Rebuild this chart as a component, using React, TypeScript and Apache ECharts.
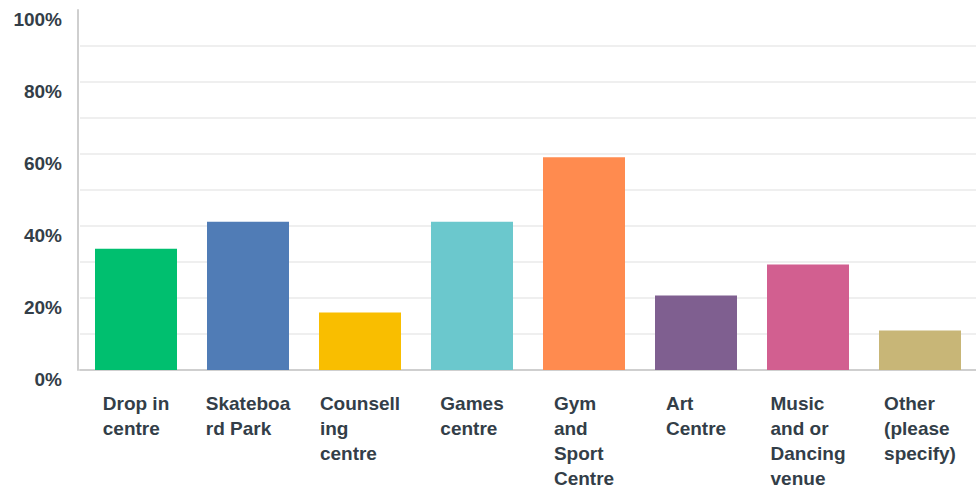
import React, { useEffect, useRef } from "react";
import * as echarts from "echarts";

const categories = [
  "Drop in centre",
  "Skateboard Park",
  "Counselling centre",
  "Games centre",
  "Gym and Sport Centre",
  "Art Centre",
  "Music and or Dancing venue",
  "Other (please specify)",
];
const categoryLines = [
  ["Drop in", "centre"],
  ["Skateboa", "rd Park"],
  ["Counsell", "ing", "centre"],
  ["Games", "centre"],
  ["Gym", "and", "Sport", "Centre"],
  ["Art", "Centre"],
  ["Music", "and or", "Dancing", "venue"],
  ["Other", "(please", "specify)"],
];
const values = [33.7, 41.2, 16.0, 41.2, 59.1, 20.7, 29.3, 11.0];
const colors = [
  "#00bf6f",
  "#507cb6",
  "#f9be00",
  "#6bc8cd",
  "#ff8b4f",
  "#7f5f90",
  "#d25f90",
  "#c8b677",
];
const yTicks = [0, 20, 40, 60, 80, 100];

const FONT = "'Liberation Sans', Arial, sans-serif";
const TEXT = "#333e48";

export default function App() {
  const ref = useRef<HTMLDivElement>(null);
  useEffect(() => {
    if (!ref.current) return;
    const chart = echarts.init(ref.current, undefined, { renderer: "svg" });
    chart.setOption({
      animation: false,
      backgroundColor: "#ffffff",
      grid: { left: 80, width: 901, top: 10, height: 362, containLabel: false },
      xAxis: {
        type: "category",
        data: categories,
        axisLine: { show: true, lineStyle: { color: "#cfcfcf", width: 2 } },
        axisTick: { show: false },
        axisLabel: {
          interval: 0,
          margin: 21,
          align: "center",
          verticalAlign: "top",
          fontFamily: FONT,
          fontWeight: "bold",
          fontSize: 19,
          color: TEXT,
          lineHeight: 25,
          formatter: (_v: string, idx: number) =>
            categoryLines[idx].map((l) => `{a|${l}}`).join("\n"),
          rich: {
            a: {
              align: "left",
              fontFamily: FONT,
              fontWeight: "bold",
              fontSize: 19,
              color: TEXT,
              lineHeight: 25,
            },
          },
        },
      },
      yAxis: {
        type: "value",
        min: 0,
        max: 100,
        interval: 10,
        offset: 2,
        axisLine: { show: true, lineStyle: { color: "#cfcfcf", width: 2 } },
        axisTick: { show: false },
        splitLine: {
          show: true,
          showMaxLine: false,
          lineStyle: { color: "#efefef", width: 2 },
        },
        axisLabel: {
          margin: 16,
          verticalAlign: "top",
          fontFamily: FONT,
          fontWeight: "bold",
          fontSize: 19,
          color: TEXT,
          formatter: (v: number) => (yTicks.includes(v) ? `${v}%` : ""),
        },
      },
      series: [
        {
          type: "bar",
          barWidth: 82,
          data: values.map((v, i) => ({ value: v, itemStyle: { color: colors[i] } })),
        },
      ],
    });
    return () => chart.dispose();
  }, []);
  return (
    <div
      ref={ref}
      style={{ position: "fixed", left: 0, top: 0, width: 976, height: 491 }}
    />
  );
}
